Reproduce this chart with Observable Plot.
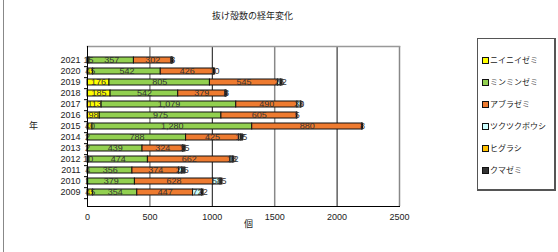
<!DOCTYPE html>
<html><head><meta charset="utf-8">
<script src="https://cdn.jsdelivr.net/npm/d3@7"></script>
<script src="https://cdn.jsdelivr.net/npm/@observablehq/plot@0.6"></script>
<style>
body{margin:0;background:#fff;font-family:"Liberation Sans","Noto Sans CJK JP",sans-serif;}
#wrap{position:relative;width:558px;height:252px;overflow:hidden;}
#frame{position:absolute;left:3px;top:-2px;width:560px;height:260px;border-left:1px solid #888;}
.t{position:absolute;font-size:9px;color:#222;font-family:"Noto Sans CJK JP",sans-serif;white-space:nowrap;}
#legend{position:absolute;left:477px;top:38px;width:79px;height:153px;border:1px solid #555;border-right-width:2px;border-bottom-width:2px;box-sizing:border-box;}
.li{position:absolute;left:4px;font-size:8px;font-family:"Noto Sans CJK JP",sans-serif;color:#222;display:flex;align-items:center;white-space:nowrap;line-height:10px;}
.sw{width:5px;height:5px;border:1px solid #111;margin-right:1px;}
</style></head>
<body><div id="wrap"><div id="frame"></div></div>
<script>
const years = ["2009","2010","2011","2012","2013","2014","2015","2016","2017","2018","2019","2020","2021"];
const species = ["ニイニイゼミ","ミンミンゼミ","アブラゼミ","ツクツクボウシ","ヒグラシ","クマゼミ"];
const colors = ["#FFFF00","#92D050","#EE7B30","#CCFFFF","#FFC000","#333333"];
const nii   = [45, 1, 4, 10, 2, 2, 40, 98, 113, 185, 176, 45, 15];
const minmin= [354, 379, 356, 474, 439, 788, 1280, 975, 1079, 542, 805, 542, 357];
const abura = [447, 628, 374, 662, 324, 425, 880, 605, 490, 379, 545, 426, 302];
const tsuku = [72, 58, 25, 18, 5, 17, 0, 0, 30, 3, 25, 0, 5];
const higu  = [0, 0, 0, 0, 0, 0, 0, 0, 0, 0, 0, 0, 0];
const kuma  = [12, 15, 25, 12, 15, 15, 8, 5, 3, 8, 12, 10, 8];
const xTicks = [0, 500, 1000, 1500, 2000, 2500];
const series = [nii, minmin, abura, tsuku, higu, kuma];

const data = [];
years.forEach((y, i) => species.forEach((s, j) => data.push({year: y, species: s, value: series[j][i]})));

const plotH = 252 - 46 - 46;
const step = plotH / years.length;

const chart = Plot.plot({
  width: 558, height: 252,
  marginLeft: 87, marginRight: 159, marginTop: 46, marginBottom: 46,
  style: {fontFamily: "Liberation Sans, sans-serif", fontSize: "9px", color: "#222", background: "transparent"},
  x: {domain: [0, 2500], ticks: xTicks, tickSize: 0, tickPadding: 7, tickFormat: d3.format("d"), label: null},
  y: {domain: years.slice().reverse(), padding: 0.47, tickSize: 0, tickPadding: 7, label: null},
  color: {domain: species, range: colors},
  marks: [
    Plot.ruleX(xTicks.slice(1), {stroke: (d, i) => i % 2 ? "#111" : "#888", strokeWidth: (d, i) => i % 2 ? 1 : 1.5}),
    Plot.frame({anchor: "top", stroke: "#999", strokeWidth: 1.5}),
    Plot.barX(data.filter(d => d.value > 0), {x: "value", y: "year", fill: "species", stroke: "#111", strokeWidth: 1, order: species}),
    Plot.text(data.filter(d => d.value > 0), Plot.stackX({x: "value", y: "year", z: "species", order: species, text: "value", fill: "#333", fontSize: 9})),
    Plot.ruleX([0], {stroke: "#000"}),
    Plot.frame({anchor: "bottom", stroke: "#000"}),
    Plot.ruleY(years, {y: d => d, x1: -24, x2: 0, dy: step / 2, stroke: "#000"})
  ]
});
const wrap = document.getElementById("wrap");
chart.style.position = "absolute"; chart.style.left = "0"; chart.style.top = "0";
wrap.appendChild(chart);

function addText(txt, x, y) {
  const d = document.createElement("div"); d.className = "t"; d.textContent = txt;
  d.style.left = x + "px"; d.style.top = y + "px";
  wrap.appendChild(d);
}
addText("抜け殻数の経年変化", 212, 9);
addText("年", 29, 119);
addText("個", 244, 217);

const lg = document.createElement("div"); lg.id = "legend"; wrap.appendChild(lg);
species.forEach((s, i) => {
  const it = document.createElement("div"); it.className = "li";
  it.style.top = (16 + i * 22) + "px";
  const sw = document.createElement("span"); sw.className = "sw"; sw.style.background = colors[i];
  it.appendChild(sw); it.appendChild(document.createTextNode(s)); lg.appendChild(it);
});
</script></body></html>
